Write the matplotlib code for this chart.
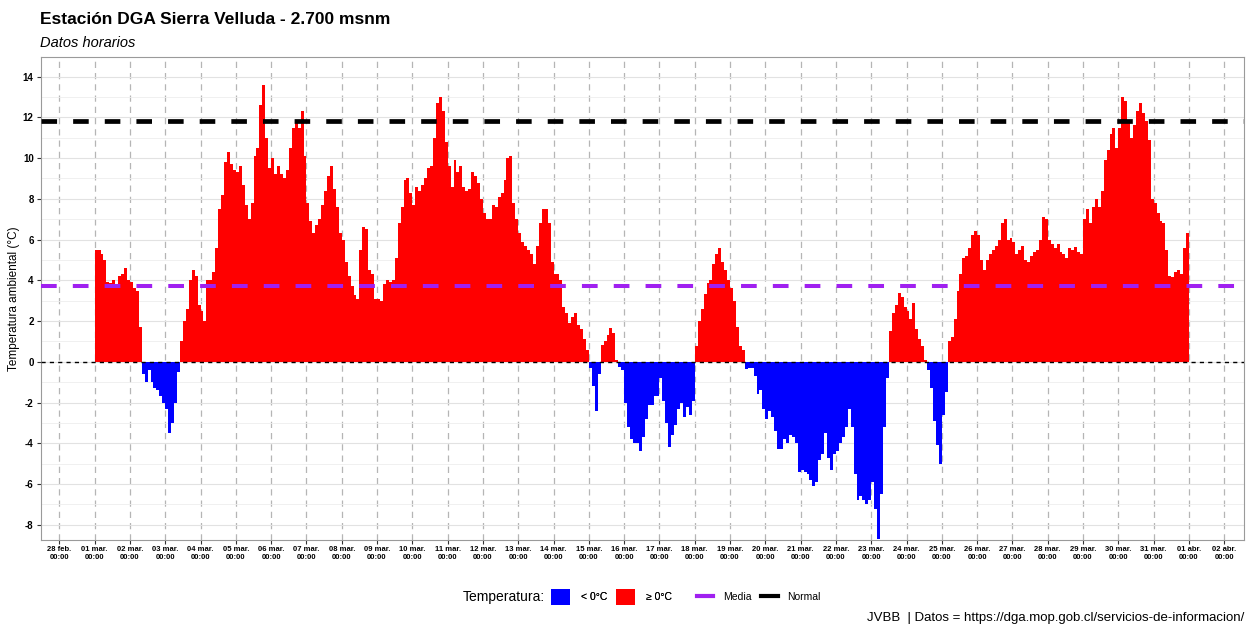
import numpy as np
import matplotlib.pyplot as plt
from matplotlib.patches import Patch
from matplotlib.lines import Line2D

plt.rcParams['font.family'] = ['Liberation Sans', 'DejaVu Sans']
plt.rcParams['axes.unicode_minus'] = False

# temperatura cada 2 horas, una fila por dia (01 mar -> 31 mar)
temp = [
    5.5, 5.5, 5.3, 5.0, 3.9, 3.85, 4.0, 3.8, 4.2, 4.3, 4.6, 4.0,        # 01 mar
    3.9, 3.6, 3.5, 1.7, -0.6, -1.0, -0.4, -1.0, -1.3, -1.4, -1.7, -2.0,  # 02 mar
    -2.3, -3.5, -3.0, -2.0, -0.5, 1.0, 2.0, 2.6, 4.0, 4.5, 4.2, 2.8,     # 03 mar
    2.5, 2.0, 4.0, 4.0, 4.4, 5.6, 7.5, 8.2, 9.8, 10.3, 9.7, 9.4,         # 04 mar
    9.3, 9.6, 8.7, 7.7, 7.0, 7.8, 10.1, 10.5, 12.6, 13.6, 11.0, 9.5,     # 05 mar
    10.0, 9.2, 9.6, 9.2, 9.0, 9.4, 10.5, 11.5, 11.8, 11.5, 12.3, 10.1,   # 06 mar
    7.8, 6.9, 6.3, 6.7, 7.0, 7.7, 8.4, 9.1, 9.6, 8.5, 7.6, 6.3,          # 07 mar
    6.0, 4.9, 4.2, 3.7, 3.3, 3.1, 5.5, 6.6, 6.5, 4.5, 4.3, 3.1,          # 08 mar
    3.1, 3.0, 3.8, 4.0, 3.9, 4.0, 5.1, 6.8, 7.6, 8.9, 9.0, 8.3,          # 09 mar
    7.7, 8.6, 8.4, 8.7, 9.0, 9.5, 9.6, 11.0, 12.7, 13.0, 12.3, 10.8,     # 10 mar
    9.6, 8.6, 9.9, 9.3, 9.6, 8.6, 8.4, 8.5, 9.3, 9.1, 8.8, 8.0,          # 11 mar
    7.3, 7.0, 7.0, 7.7, 7.6, 8.1, 8.3, 8.9, 10.0, 10.1, 7.8, 7.0,        # 12 mar
    6.3, 5.9, 5.7, 5.5, 5.3, 4.8, 5.7, 6.8, 7.5, 7.5, 6.8, 4.9,          # 13 mar
    4.3, 4.3, 4.0, 2.7, 2.4, 1.9, 2.2, 2.4, 1.8, 1.6, 1.1, 0.6,          # 14 mar
    -0.3, -1.2, -2.4, -0.6, 0.85, 1.0, 1.3, 1.65, 1.4, 0.1, -0.25, -0.4, # 15 mar
    -2.0, -3.2, -3.8, -4.0, -4.0, -4.4, -3.7, -2.8, -2.1, -2.1, -1.7, -1.7,  # 16 mar
    -0.8, -1.9, -3.0, -4.2, -3.6, -3.1, -2.3, -2.0, -2.7, -2.2, -2.6, -1.9,  # 17 mar
    0.8, 2.0, 2.6, 3.35, 3.85, 4.0, 4.8, 5.3, 5.6, 4.9, 4.5, 4.0,        # 18 mar
    3.6, 3.0, 1.7, 0.8, 0.6, -0.35, -0.3, -0.3, -0.7, -1.6, -1.4, -2.3,  # 19 mar
    -2.8, -2.4, -2.7, -3.4, -4.3, -4.3, -3.8, -4.0, -3.6, -3.7, -4.0, -5.4,  # 20 mar
    -5.3, -5.4, -5.5, -5.8, -6.1, -5.9, -4.8, -4.5, -3.5, -4.7, -5.3, -4.5,  # 21 mar
    -4.4, -4.0, -3.7, -3.2, -2.3, -3.2, -5.5, -6.8, -6.6, -6.8, -7.0, -6.8,  # 22 mar
    -5.9, -7.2, -8.7, -6.5, -3.2, -0.8, 1.5, 2.4, 2.8, 3.4, 3.2, 2.7,    # 23 mar
    2.5, 2.1, 2.9, 1.6, 1.1, 0.8, 0.1, -0.4, -1.3, -2.9, -4.1, -5.0,     # 24 mar
    -2.6, -1.5, 1.0, 1.2, 2.1, 3.5, 4.3, 5.1, 5.2, 5.6, 6.2, 6.4,        # 25 mar
    6.2, 5.0, 4.5, 5.0, 5.3, 5.5, 5.7, 6.0, 6.8, 7.0, 6.0, 6.1,          # 26 mar
    5.9, 5.3, 5.5, 5.7, 5.0, 4.9, 5.2, 5.4, 5.5, 6.0, 7.1, 7.0,          # 27 mar
    6.0, 5.8, 5.6, 5.8, 5.4, 5.3, 5.1, 5.6, 5.5, 5.65, 5.4, 5.3,         # 28 mar
    7.0, 7.5, 6.8, 7.6, 8.0, 7.6, 8.4, 9.9, 10.4, 11.2, 11.5, 10.5,      # 29 mar
    11.5, 13.0, 12.8, 11.7, 11.0, 11.6, 12.3, 12.7, 12.2, 11.8, 10.9, 8.0,   # 30 mar
    7.8, 7.3, 6.9, 6.8, 5.5, 4.2, 4.15, 4.4, 4.5, 4.3, 5.6, 6.3,         # 31 mar
]
media = 3.7
normal = 11.8
dias = ['28 feb.'] + ['%02d mar.' % d for d in range(1, 32)] + ['01 abr.', '02 abr.']

temp = np.array(temp)
t = np.arange(len(temp)) * 2 / 24   # dias desde 01 mar 00:00
colores = np.where(temp < 0, '#0000FF', '#FF0000')

fig = plt.figure(figsize=(12.47, 6.24), dpi=100)
ax = fig.add_axes([0.0326, 0.1354, 0.965, 0.7726])

ax.bar(t, temp, width=2 / 24, align='edge', color=colores, linewidth=0, zorder=2)
ax.axhline(0, color='black', lw=1.0, ls=(0, (3, 3)), zorder=3)
ax.axhline(media, color='#A020F0', lw=2.9, ls=(0, (3.9, 4.0)), zorder=3)
ax.axhline(normal, color='black', lw=3.4, ls=(0, (3.3, 3.4)), zorder=3)

ax.set_xlim(-1.53, 32.56)
ax.set_ylim(-8.72, 14.94)
ax.set_xticks(np.arange(-1, 33))
ax.set_xticklabels([d + '\n00:00' for d in dias], fontsize=5.5, fontweight='bold')
ax.set_yticks(np.arange(-8, 15, 2))
ax.set_yticks(np.arange(-7, 15, 2), minor=True)
for lab in ax.get_yticklabels():
    lab.set_fontweight('bold')
ax.tick_params(axis='y', labelsize=7, length=3, color='#333333', pad=2)
ax.tick_params(axis='y', which='minor', length=0)
ax.tick_params(axis='x', length=3, color='#333333', pad=2)

ax.grid(axis='x', color='#b5b5b5', ls=(0, (5, 4)), lw=0.9)
ax.grid(axis='y', which='major', color='#e2e2e2', lw=0.8)
ax.grid(axis='y', which='minor', color='#eeeeee', lw=0.6)
ax.set_axisbelow(True)
for s in ax.spines.values():
    s.set_color('#9a9a9a')
    s.set_linewidth(0.8)

ax.set_ylabel('Temperatura ambiental (°C)', fontsize=8.5, labelpad=2)

fig.text(0.032, 0.968, 'Estación DGA Sierra Velluda - 2.700 msnm', fontsize=12.5,
         fontweight='bold', va='center')
fig.text(0.032, 0.931, 'Datos horarios', fontsize=10.5, style='italic', va='center')

# leyenda: rellenos y lineas por separado
fig.text(0.3713, 0.0433, 'Temperatura:', fontsize=10, va='center')
leg1 = fig.legend([Patch(fc='#0000FF'), Patch(fc='#FF0000')], ['< 0°C', '≥ 0°C'],
                  ncol=2, loc='center left', bbox_to_anchor=(551 / 1247, 0.0433),
                  frameon=False, fontsize=7.5, handlelength=1.8, handleheight=1.9,
                  handletextpad=1.1, columnspacing=0.8, borderpad=0, borderaxespad=0)
fig.legend([Line2D([], [], color='#A020F0', lw=3), Line2D([], [], color='black', lw=3)],
           ['Media', 'Normal'], ncol=2, loc='center left',
           bbox_to_anchor=(697 / 1247, 0.0433), frameon=False, fontsize=7.5,
           handlelength=1.55, handletextpad=0.95, columnspacing=0.95,
           borderpad=0, borderaxespad=0)
fig.add_artist(leg1)

fig.text(0.998, 0.01, 'JVBB  | Datos = https://dga.mop.gob.cl/servicios-de-informacion/',
         fontsize=9.5, ha='right', va='center')

plt.savefig('out.png', dpi=100)
